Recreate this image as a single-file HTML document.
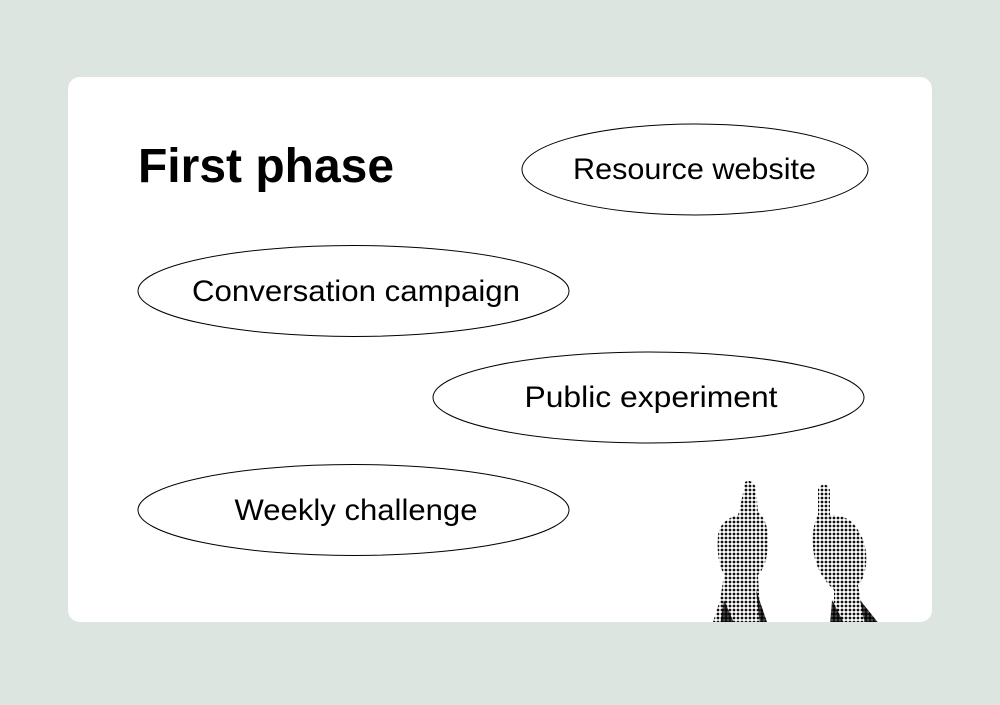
<!DOCTYPE html>
<html><head><meta charset="utf-8"><style>
html,body{margin:0;padding:0;background:#dde5e1;}
body{width:1000px;height:700px;position:relative;overflow:hidden;font-family:"Liberation Sans",sans-serif;}
</style></head><body>
<svg width="1000" height="700" viewBox="0 0 1000 700" xmlns="http://www.w3.org/2000/svg">
<defs>
<pattern id="dots" width="4" height="4" patternUnits="userSpaceOnUse">
<rect width="4" height="4" fill="#fff"/>
<circle cx="2" cy="2" r="1.4" fill="#111"/>
</pattern>
<pattern id="dotsD" width="4" height="4" patternUnits="userSpaceOnUse">
<rect width="4" height="4" fill="#555"/>
<circle cx="2" cy="2" r="1.8" fill="#000"/>
</pattern>
<clipPath id="card"><rect x="68" y="77" width="864" height="545" rx="12"/></clipPath>
</defs>
<rect x="68" y="77" width="864" height="545" rx="12" fill="#fff"/>
<text x="138" y="182" font-family="Liberation Sans, sans-serif" font-weight="bold" font-size="48" textLength="256" lengthAdjust="spacingAndGlyphs" fill="#000">First phase</text>
<g fill="none" stroke="#000" stroke-width="1">
<ellipse cx="695" cy="169.5" rx="173" ry="45.5"/>
<ellipse cx="353.5" cy="291" rx="215.5" ry="45.5"/>
<ellipse cx="648.5" cy="397.5" rx="215.5" ry="45.5"/>
<ellipse cx="353.5" cy="510" rx="215.5" ry="45.5"/>
</g>
<g font-family="Liberation Sans, sans-serif" font-size="30" fill="#000" text-anchor="middle">
<text x="694.5" y="179" textLength="243" lengthAdjust="spacingAndGlyphs">Resource website</text>
<text x="356" y="301" textLength="328" lengthAdjust="spacingAndGlyphs">Conversation campaign</text>
<text x="651" y="407" textLength="253" lengthAdjust="spacingAndGlyphs">Public experiment</text>
<text x="356" y="520" textLength="243" lengthAdjust="spacingAndGlyphs">Weekly challenge</text>
</g>
<g clip-path="url(#card)">
<!-- left hand -->
<path d="M745 482 Q752 478 756 488 L758 512 Q768 520 768 540 Q768 565 758 575 L760 610 L768 625 L712 625 L720 600 L724 575 Q716 560 718 535 Q720 520 738 515 Q742 500 745 482Z" fill="url(#dots)"/>
<path d="M724 600 L720 625 L735 625 Z M756 590 L760 625 L768 625 Z" fill="url(#dotsD)"/>
<!-- right hand -->
<path d="M818 488 Q826 480 830 490 L830 515 Q850 515 858 530 Q868 545 866 565 Q864 580 858 585 L862 605 L878 625 L830 625 L834 600 L834 590 Q818 575 814 555 Q810 530 818 515 Z" fill="url(#dots)"/>
<path d="M832 600 L830 625 L845 625 Z M860 600 L880 625 L865 625 Z" fill="url(#dotsD)"/>
</g>
</svg>
</body></html>
